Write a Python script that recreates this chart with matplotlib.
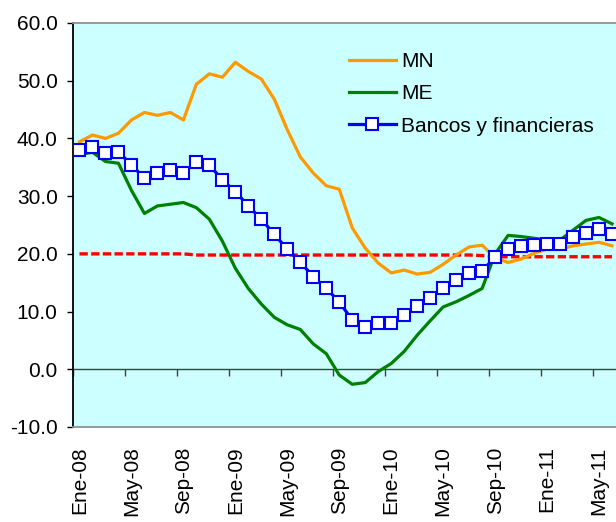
import matplotlib
matplotlib.use("Agg")
import matplotlib.pyplot as plt
import numpy as np

plt.rcParams['font.family'] = ['Liberation Sans', 'DejaVu Sans']

# Monthly categories, Jan-2008 .. Jun-2011
month_names = ['Ene', 'Feb', 'Mar', 'Abr', 'May', 'Jun',
               'Jul', 'Ago', 'Sep', 'Oct', 'Nov', 'Dic']
categories = [f"{m}-{y:02d}" for y in (8, 9, 10, 11) for m in month_names][:42]
tick_labels = categories[::4]

mn = [39.4, 40.6, 40.0, 40.9, 43.2, 44.5, 44.0, 44.5, 43.2, 49.4,
      51.2, 50.6, 53.2, 51.6, 50.3, 46.8, 41.5, 36.8, 34.0, 31.8,
      31.2, 24.5, 21.0, 18.4, 16.7, 17.2, 16.5, 16.8, 18.2, 19.8,
      21.2, 21.5, 19.3, 18.5, 19.1, 20.1, 20.8, 20.8, 21.4, 21.7,
      22.0, 21.4]
me = [37.2, 37.6, 36.0, 35.7, 31.0, 27.0, 28.3, 28.6, 28.9, 28.0,
      26.0, 22.2, 17.5, 14.0, 11.3, 9.0, 7.7, 6.9, 4.4, 2.7,
      -1.0, -2.6, -2.3, -0.4, 1.0, 3.1, 5.9, 8.4, 10.8, 11.7,
      12.8, 14.0, 20.0, 23.2, 23.0, 22.7, 22.4, 22.4, 24.1, 25.8,
      26.3, 25.2]
bancos = [38.0, 38.6, 37.4, 37.7, 35.4, 33.1, 34.0, 34.5, 34.0, 36.0,
          35.4, 32.8, 30.8, 28.3, 26.0, 23.4, 20.8, 18.6, 16.0, 14.0,
          11.7, 8.5, 7.4, 8.0, 8.0, 9.4, 10.9, 12.3, 14.0, 15.4,
          16.6, 17.1, 19.4, 20.9, 21.3, 21.5, 21.7, 21.7, 22.9, 23.7,
          24.3, 23.4]
limite = [20.0, 20.0, 20.0, 20.0, 20.0, 20.0, 20.0, 20.0, 20.0, 19.8,
          19.8, 19.8, 19.8, 19.8, 19.8, 19.8, 19.8, 19.8, 19.8, 19.8,
          19.8, 19.8, 19.8, 19.8, 19.8, 19.8, 19.8, 19.8, 19.8, 19.8,
          19.8, 19.7, 19.5, 19.5, 19.5, 19.5, 19.5, 19.5, 19.5, 19.5,
          19.5, 19.5]

W, H = 616, 522
fig = plt.figure(figsize=(W / 100, H / 100), dpi=100)
left, right, top, bottom = 73, 618.5, 23, 427
ax = fig.add_axes([left / W, 1 - bottom / H, (right - left) / W, (bottom - top) / H])
ax.set_facecolor('#CCFFFF')

x = np.arange(len(categories))
ax.plot(x, limite, color='#FF0000', lw=2.4, dashes=(2.5, 1.0), zorder=2)
ax.plot(x, mn, color='#FF9900', lw=2.3, label='MN', zorder=3)
ax.plot(x, me, color='#008000', lw=2.3, label='ME', zorder=3)
ax.plot(x, bancos, color='#0000FF', lw=2.3, marker='s', markersize=8.5,
        markerfacecolor='white', markeredgecolor='#0000FF', markeredgewidth=1.5,
        label='Bancos y financieras', zorder=4)

ax.set_xlim(-0.5, 41.5)
ax.set_ylim(-10, 60)
ax.set_yticks(np.arange(-10, 61, 10))
ax.yaxis.set_major_formatter(matplotlib.ticker.FormatStrFormatter('%.1f'))
ax.tick_params(axis='y', direction='out', length=4.5, width=1, pad=6.5,
               labelsize=15, colors='black')

ax.set_xticks(x[::4])
ax.set_xticklabels(tick_labels, rotation=90, ha='center', va='top')
ax.tick_params(axis='x', length=0, pad=14, labelsize=15)

for side in ('top', 'bottom', 'right'):
    ax.spines[side].set_color('#909090')
    ax.spines[side].set_linewidth(1.3)
ax.spines['left'].set_color('black')
ax.spines['left'].set_linewidth(1.3)

# category axis crossing at zero, ticks between categories
zero_axis = ax.secondary_xaxis(10 / 70)
zero_axis.set_xticks(np.arange(-0.5, 41, 4))
zero_axis.tick_params(axis='x', direction='out', length=5, width=1,
                      labelbottom=False, color='#404040')
zero_axis.spines['bottom'].set_color('#404040')
zero_axis.spines['bottom'].set_linewidth(1)

leg = ax.legend(loc='upper left', bbox_to_anchor=((349 - left) / (right - left), (bottom - 52) / (bottom - top)),
                frameon=False, fontsize=15, handlelength=2.25, handletextpad=0.25,
                labelspacing=0.64, borderpad=0, borderaxespad=0)

fig.savefig('out.png', dpi=100, facecolor='white')
